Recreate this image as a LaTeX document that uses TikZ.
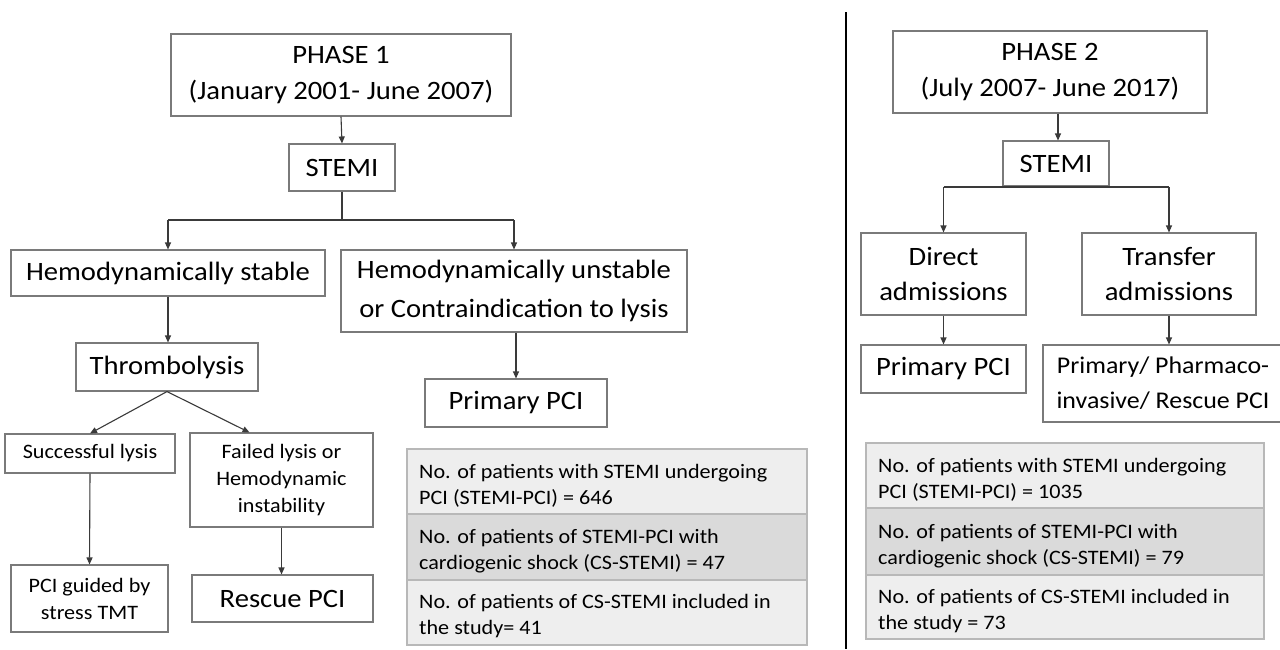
\documentclass[tikz,border=0pt]{standalone}
\usepackage{fontspec}
\setmainfont{Carlito}[FakeStretch=1.08]
\usetikzlibrary{arrows.meta,calc}
\definecolor{edge}{HTML}{7A7A7A}
\definecolor{wire}{HTML}{3A3A3A}
\definecolor{rowlight}{HTML}{EEEEEE}
\definecolor{rowdark}{HTML}{DADADA}
\definecolor{rowedge}{HTML}{B8B8B8}
\tikzset{
  box/.style={draw=edge, line width=1.1pt, inner sep=0pt, align=center, font=\fontsize{26.5}{36}\selectfont},
  smallbox/.style={box, font=\fontsize{20.5}{27}\selectfont},
  flow/.style={draw=wire, line width=1.1pt, -{Triangle[length=7pt,width=6pt]}},
  plain/.style={draw=wire, line width=1.1pt},
  row/.style={draw=rowedge, line width=1.2pt, inner sep=0pt},
  rowtext/.style={anchor=west, align=left, inner sep=0pt, font=\fontsize{20.5}{26}\selectfont},
}
\begin{document}
\begin{tikzpicture}[x=1pt,y=-1pt]
\useasboundingbox (0,0) rectangle (1280,649);
\fill[white] (0,0) rectangle (1280,649);

% ---------------- Phase 1 ----------------
\node[box, minimum width=340pt, minimum height=82pt] (p1) at (341,75) {PHASE 1\\(January 2001- June 2007)};
\node[box, minimum width=106pt, minimum height=47pt] (s1) at (342,167.5) {STEMI};
\node[box, minimum width=314pt, minimum height=46pt] (stab) at (168,273) {Hemodynamically stable};
\node[box, minimum width=346pt, minimum height=82pt, font=\fontsize{26.5}{39}\selectfont] (unst) at (514,291) {Hemodynamically unstable\\or Contraindication to lysis};
\node[box, minimum width=182pt, minimum height=48pt] (thr) at (167,367) {Thrombolysis};
\node[smallbox, minimum width=170pt, minimum height=39pt] (succ) at (90,453.5) {Successful lysis};
\node[smallbox, minimum width=183pt, minimum height=94pt] (fail) at (281.5,480) {Failed lysis or\\Hemodynamic\\instability};
\node[smallbox, minimum width=157pt, minimum height=67pt] (guid) at (89.5,598.5) {PCI guided by\\stress TMT};
\node[box, minimum width=181pt, minimum height=47pt] (resc) at (282.5,598.5) {Rescue PCI};
\node[box, minimum width=182pt, minimum height=48pt] (pp1) at (516,403) {Primary PCI};

\coordinate (j1) at (342,220);
\coordinate (j1l) at (168,220);
\coordinate (j1r) at (514,220);
\draw[flow] (p1.south) -- (s1.north);
\draw[plain] (s1.south) -- (j1);
\draw[plain] (j1l) -- (j1r);
\draw[flow] (j1l) -- (stab.north);
\draw[flow] (j1r) -- (unst.north);
\draw[flow] (stab.south) -- (stab.south |- thr.north);
\draw[flow] (thr.south) -- (succ.north);
\draw[flow] (thr.south) -- ($(fail.north)+(-32,0)$);
\draw[flow] (succ.south) -- (guid.north);
\draw[flow] (fail.south) -- (fail.south |- resc.north);
\draw[flow] (pp1.north |- unst.south) -- (pp1.north);

% stats 1
\node[row, fill=rowlight, minimum width=400pt, minimum height=65pt] (a1) at (607,481.5) {};
\node[row, fill=rowdark, minimum width=400pt, minimum height=66pt] (a2) at (607,547) {};
\node[row, fill=rowlight, minimum width=400pt, minimum height=65pt] (a3) at (607,612.5) {};
\node[rowtext] (a1t) at (419,486) {No. of patients with STEMI undergoing\\PCI (STEMI-PCI) = 646};
\node[rowtext] (a2t) at (419,551) {No. of patients of STEMI-PCI with\\cardiogenic shock (CS-STEMI) = 47};
\node[rowtext] (a3t) at (419,616) {No. of patients of CS-STEMI included in\\the study= 41};

% divider
\coordinate (d1) at (846,12);
\coordinate (d2) at (846,649);
\draw[line width=2.5pt, black] (d1) -- (d2);

% ---------------- Phase 2 ----------------
\node[box, minimum width=314pt, minimum height=82pt] (p2) at (1050,72) {PHASE 2\\(July 2007- June 2017)};
\node[box, minimum width=106pt, minimum height=45pt] (s2) at (1056,163.5) {STEMI};
\node[box, minimum width=165pt, minimum height=82pt, font=\fontsize{26.5}{35}\selectfont] (dir) at (943.5,274) {Direct\\admissions};
\node[box, minimum width=174pt, minimum height=82pt, font=\fontsize{26.5}{35}\selectfont] (tra) at (1169,274) {Transfer\\admissions};
\node[box, minimum width=165pt, minimum height=48pt] (pp2) at (943.5,369) {Primary PCI};
\node[box, minimum width=240pt, minimum height=77pt, font=\fontsize{24}{35}\selectfont] (pha) at (1163,383.5) {Primary/ Pharmaco-\\invasive/ Rescue PCI};

\coordinate (j2l) at (943.5,187);
\coordinate (j2r) at (1169,187);
\draw[flow] ($(p2.south)+(8,0)$) -- ($(s2.north)+(2,0)$);
\draw[plain] (j2l) -- (j2r);
\draw[flow] (j2l) -- (dir.north);
\draw[flow] (j2r) -- (tra.north);
\draw[flow] (dir.south) -- (pp2.north);
\draw[flow] (tra.south) -- (tra.south |- pha.north);

% stats 2
\node[row, fill=rowlight, minimum width=398pt, minimum height=65pt] (b1) at (1065,475.5) {};
\node[row, fill=rowdark, minimum width=398pt, minimum height=67pt] (b2) at (1065,541.5) {};
\node[row, fill=rowlight, minimum width=398pt, minimum height=64pt] (b3) at (1065,607) {};
\node[rowtext] (b1t) at (878,480) {No. of patients with STEMI undergoing\\PCI (STEMI-PCI) = 1035};
\node[rowtext] (b2t) at (878,546) {No. of patients of STEMI-PCI with\\cardiogenic shock (CS-STEMI) = 79};
\node[rowtext] (b3t) at (878,611) {No. of patients of CS-STEMI included in\\the study = 73};
\end{tikzpicture}
\end{document}
